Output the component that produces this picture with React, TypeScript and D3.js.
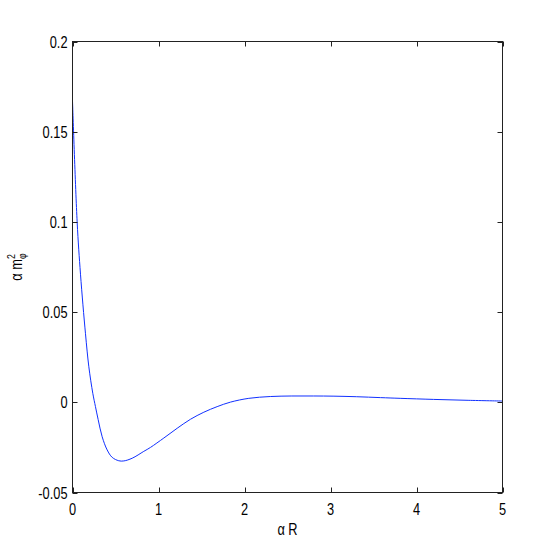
import * as d3 from 'd3';

// curve
const alphaR = [0, 0.054, 0.093, 0.151, 0.19, 0.236, 0.267, 0.298, 0.345, 0.403, 0.461, 0.538, 0.597, 0.694, 0.829, 0.907, 1.062, 1.217, 1.372, 1.527, 1.682, 1.837, 2.05, 2.3, 2.55, 2.8, 3.04, 3.3, 3.58, 3.81, 4.2, 4.6, 5.0];
const alphaM2 = [0.167, 0.1, 0.071, 0.038, 0.0197, 0.005, -0.0024, -0.0095, -0.0191, -0.0264, -0.0305, -0.0324, -0.0325, -0.031, -0.0272, -0.025, -0.0198, -0.0144, -0.0094, -0.0055, -0.0024, 0.0001, 0.0022, 0.0032, 0.0035, 0.0035, 0.0034, 0.0031, 0.0026, 0.0022, 0.0016, 0.0011, 0.0007];

const xTicks = [0, 1, 2, 3, 4, 5];
const xTickLabels = ['0', '1', '2', '3', '4', '5'];
const yTicks = [-0.05, 0, 0.05, 0.1, 0.15, 0.2];
const yTickLabels = ['-0.05', '0', '0.05', '0.1', '0.15', '0.2'];

const W = 554, H = 554;
const left = 72.5, right = 502.5, top = 41.5, bottom = 492.5;
const FONT = '"Liberation Sans", Arial, sans-serif';
const FS = 16;
const SX = 0.8; // narrow MATLAB-like glyphs
const TICK = 5;
const AXIS = '#222';

export default function App() {
  const x = d3.scaleLinear().domain([0, 5]).range([left, right]);
  const y = d3.scaleLinear().domain([-0.05, 0.2]).range([bottom, top]);

  const line = d3.line<number>()
    .x((_, i) => x(alphaR[i]))
    .y(d => y(d))
    .curve(d3.curveCatmullRom.alpha(0.5));

  return (
    <svg width={W} height={H} style={{ position: 'absolute', left: 0, top: 0, background: '#fff' }}>
      <rect x={0} y={0} width={W} height={H} fill="#fff" />
      <path d={line(alphaM2) || ''} fill="none" stroke="#1030ff" strokeWidth={1} />

      {/* box */}
      <rect x={left} y={top} width={right - left} height={bottom - top} fill="none" stroke={AXIS} strokeWidth={1} />

      {/* x ticks */}
      {xTicks.map((t, i) => (
        <g key={'x' + t}>
          <line x1={Math.round(x(t)) + 0.5} x2={Math.round(x(t)) + 0.5} y1={bottom} y2={bottom - TICK} stroke={AXIS} />
          <line x1={Math.round(x(t)) + 0.5} x2={Math.round(x(t)) + 0.5} y1={top} y2={top + TICK} stroke={AXIS} />
          <text transform={`translate(${x(t)},${bottom + 22}) scale(${SX},1)`} textAnchor="middle"
            fontFamily={FONT} fontSize={FS} fill="#000">{xTickLabels[i]}</text>
        </g>
      ))}

      {/* y ticks */}
      {yTicks.map((t, i) => (
        <g key={'y' + t}>
          <line x1={left} x2={left + TICK} y1={Math.round(y(t)) + 0.5} y2={Math.round(y(t)) + 0.5} stroke={AXIS} />
          <line x1={right} x2={right - TICK} y1={Math.round(y(t)) + 0.5} y2={Math.round(y(t)) + 0.5} stroke={AXIS} />
          <text transform={`translate(${left - 5},${y(t) + 6}) scale(${SX},1)`} textAnchor="end"
            fontFamily={FONT} fontSize={FS} fill="#000">{yTickLabels[i]}</text>
        </g>
      ))}

      {/* axis labels */}
      <text transform={`translate(${(left + right) / 2},${535}) scale(${SX},1)`} textAnchor="middle"
        fontFamily={FONT} fontSize={FS} fill="#000">α R</text>

      <text transform={`translate(22,${(top + bottom) / 2}) rotate(-90) scale(${SX},1)`} textAnchor="middle"
        fontFamily={FONT} fontSize={FS} fill="#000">
        α m
        <tspan fontSize={11} dy={-7}>2</tspan>
        <tspan fontSize={11} dx={-6} dy={11}>φ</tspan>
      </text>
    </svg>
  );
}
